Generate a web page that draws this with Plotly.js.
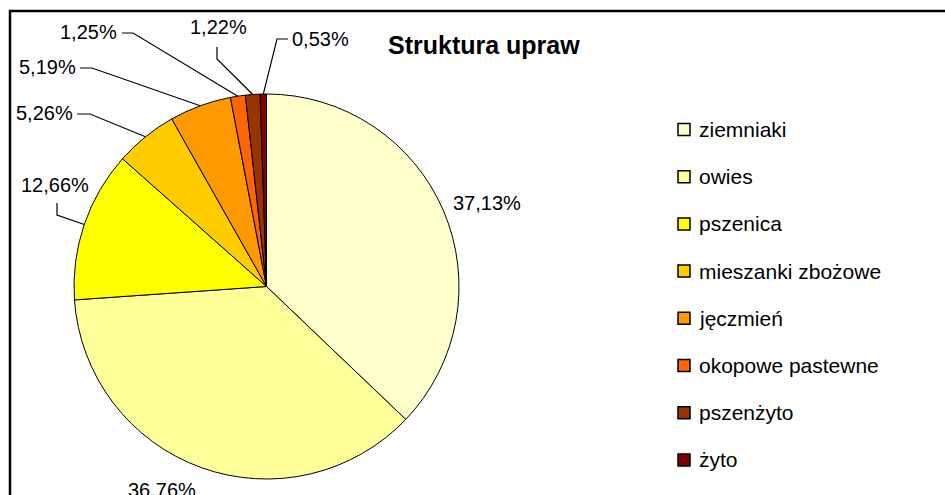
<!DOCTYPE html>
<html>
<head>
<meta charset="utf-8">
<script src="https://cdn.plot.ly/plotly-3.0.1.min.js"></script>
<style>
  html, body { margin: 0; padding: 0; background: #ffffff; }
  #wykres { width: 945px; height: 495px; }
</style>
</head>
<body>
<div id="wykres"></div>
<script>
// Dane wykresu
const uprawy = ["ziemniaki", "owies", "pszenica", "mieszanki zbożowe", "jęczmień", "okopowe pastewne", "pszenżyto", "żyto"];
const udzialy = [37.13, 36.76, 12.66, 5.26, 5.19, 1.25, 1.22, 0.53];
const kolory = ["#FFFFCC", "#FFFF99", "#FFFF00", "#FFCC00", "#FF9900", "#FF6600", "#993300", "#800000"];

// Położenie etykiet (piksele): środek tekstu oraz początek i załamanie linii odniesienia
const etykietyXY = [[487, 203], [162, 490], [55, 185], [44, 113], [47, 67], [88, 32], [218, 27], [320, 39]];
const linieStart = [null, null, [57, 203], [77, 114], [80, 68], [122, 33], [217, 47], [288, 39]];
const linieZalamanie = [null, null, [57, 215], [90, 114], [92, 68], [133, 33], [217, 59], [277, 39]];

const W = 945, H = 495;
// środek i promień koła (piksele)
const srodekX = 266.5, srodekY = 286.5, promien = 192.5;

function px(x) { return x / W; }
function py(y) { return 1 - y / H; }

function formatuj(v) {
    return v.toFixed(2).replace(".", ",") + "%";
}

// Punkt na brzegu koła w połowie wycinka
function punktNaBrzegu(i) {
    let suma = 0;
    for (let k = 0; k < i; k++) suma += udzialy[k];
    let calosc = udzialy.reduce((a, b) => a + b, 0);
    let kat = 2 * Math.PI * (suma + udzialy[i] / 2) / calosc;
    return [srodekX + promien * Math.sin(kat), srodekY - promien * Math.cos(kat)];
}

let dane = [{
    type: "pie",
    labels: uprawy,
    values: udzialy,
    sort: false,
    direction: "clockwise",
    rotation: 0,
    textinfo: "none",
    hoverinfo: "none",
    showlegend: false,
    marker: {colors: kolory, line: {color: "#000000", width: 1}},
    domain: {x: [px(srodekX - promien), px(srodekX + promien)], y: [py(srodekY + promien), py(srodekY - promien)]}
}];

let ksztalty = [];
let adnotacje = [];

// ramka
ksztalty.push({
    type: "rect", xref: "paper", yref: "paper",
    x0: px(10), x1: 1.05, y0: -0.05, y1: py(11),
    line: {color: "#000000", width: 2.5}, fillcolor: "rgba(0,0,0,0)"
});

// etykiety procentowe z liniami odniesienia
for (let i = 0; i < udzialy.length; i++) {
    adnotacje.push({
        xref: "paper", yref: "paper",
        x: px(etykietyXY[i][0]), y: py(etykietyXY[i][1]),
        xanchor: "center", yanchor: "middle",
        text: formatuj(udzialy[i]), showarrow: false,
        font: {family: "Liberation Sans, Arial, sans-serif", size: 20, color: "#000000"}
    });
    if (linieStart[i]) {
        let koniec = punktNaBrzegu(i);
        let s = linieStart[i], z = linieZalamanie[i];
        ksztalty.push({
            type: "path", xref: "paper", yref: "paper",
            path: "M" + px(s[0]) + "," + py(s[1]) + " L" + px(z[0]) + "," + py(z[1]) + " L" + px(koniec[0]) + "," + py(koniec[1]),
            line: {color: "#000000", width: 1.2}
        });
    }
}

// legenda
const legendaX = 678, legendaY0 = 129.5, legendaKrok = 47.2, kwadrat = 12;
for (let i = 0; i < uprawy.length; i++) {
    let y = legendaY0 + legendaKrok * i;
    ksztalty.push({
        type: "rect", xref: "paper", yref: "paper",
        x0: px(legendaX), x1: px(legendaX + kwadrat), y0: py(y + kwadrat / 2), y1: py(y - kwadrat / 2),
        fillcolor: kolory[i], line: {color: "#000000", width: 1.5}
    });
    adnotacje.push({
        xref: "paper", yref: "paper",
        x: px(legendaX + kwadrat + 7), y: py(y),
        xanchor: "left", yanchor: "middle",
        text: uprawy[i], showarrow: false,
        font: {family: "Liberation Sans, Arial, sans-serif", size: 21, color: "#000000"}
    });
}

// tytuł
adnotacje.push({
    xref: "paper", yref: "paper",
    x: px(484), y: py(45), xanchor: "center", yanchor: "middle",
    text: "<b>Struktura upraw</b>", showarrow: false,
    font: {family: "Liberation Sans, Arial, sans-serif", size: 25, color: "#000000"}
});

let apparence = {
    width: W,
    height: H,
    margin: {l: 0, r: 0, t: 0, b: 0},
    paper_bgcolor: "#ffffff",
    plot_bgcolor: "#ffffff",
    showlegend: false,
    shapes: ksztalty,
    annotations: adnotacje
};

Plotly.newPlot("wykres", dane, apparence, {staticPlot: true});
</script>
</body>
</html>
